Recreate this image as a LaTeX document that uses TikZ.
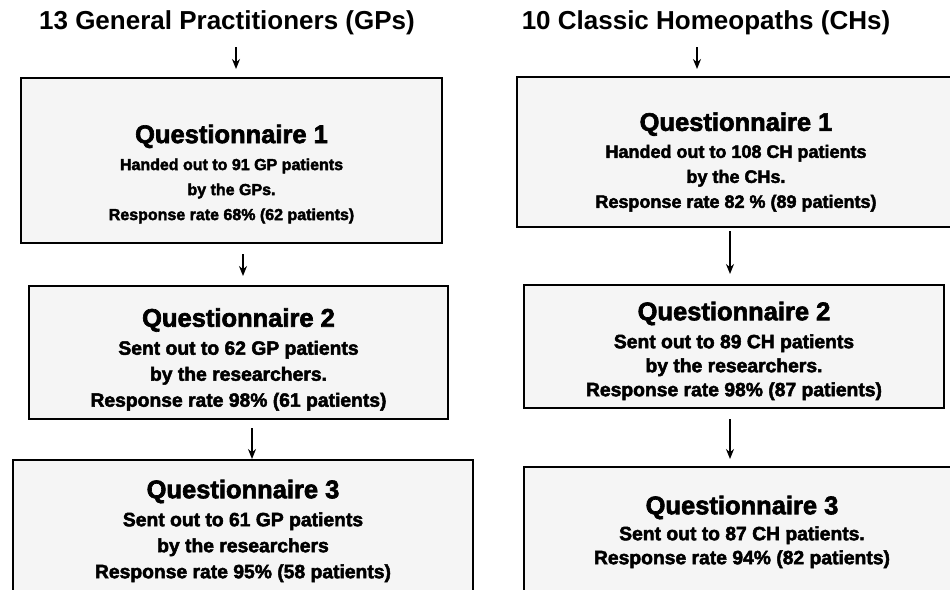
\documentclass[tikz,border=0pt]{standalone}
\usepackage{fontspec}
\setmainfont{Liberation Sans}
\newfontfamily\heavyfont{Liberation Sans}[BoldFeatures={FakeBold=2.5}]
\usetikzlibrary{arrows.meta}
\tikzset{
  qbox/.style={draw,line width=2pt,fill=black!4,inner sep=0pt},
  qtext/.style={align=center,inner sep=0pt,font=\heavyfont\bfseries\fontsize{19.3}{26}\selectfont},
  grp/.style={inner sep=0pt,font=\bfseries\fontsize{26}{30}\selectfont},
  flow/.style={line width=1.5pt,-{Stealth[length=10pt,width=8pt]}}
}
\newcommand{\qhead}[1]{{\fontsize{25.5}{30}\selectfont #1}}

\begin{document}
\begin{tikzpicture}[x=1pt,y=-1pt]
\useasboundingbox (0,0) rectangle (950,589);
% general practitioners
\node[grp] (gp) at (227,23) {13 General Practitioners (GPs)};
\node[qbox,minimum width=421pt,minimum height=165pt] (gp1) at (231.5,160.5) {};
\node[qtext,font=\heavyfont\bfseries\fontsize{16}{25}\selectfont] (gp1t) at (231.5,174) {\qhead{Questionnaire 1}\\[2pt]Handed out to 91 GP patients\\by the GPs.\\Response rate 68\% (62 patients)};
\node[qbox,minimum width=419pt,minimum height=133pt] (gp2) at (238.5,352.5) {};
\node[qtext] (gp2t) at (238.5,359.5) {\qhead{Questionnaire 2}\\[2pt]Sent out to 62 GP patients\\by the researchers.\\Response rate 98\% (61 patients)};
\node[qbox,minimum width=460pt,minimum height=140pt] (gp3) at (243,530) {};
\node[qtext] (gp3t) at (243,531) {\qhead{Questionnaire 3}\\[2pt]Sent out to 61 GP patients\\by the researchers\\Response rate 95\% (58 patients)};
% classic homeopaths
\node[grp] (ch) at (706,23) {10 Classic Homeopaths (CHs)};
\node[qbox,minimum width=443pt,minimum height=150pt] (ch1) at (738.5,152) {};
\node[qtext,font=\heavyfont\bfseries\fontsize{18}{25}\selectfont] (ch1t) at (736,162) {\qhead{Questionnaire 1}\\[2pt]Handed out to 108 CH patients\\by the CHs.\\Response rate 82 \% (89 patients)};
\node[qbox,minimum width=420pt,minimum height=123pt] (ch2) at (734,346.5) {};
\node[qtext,font=\heavyfont\bfseries\fontsize{19.3}{24}\selectfont] (ch2t) at (734,351) {\qhead{Questionnaire 2}\\[4pt]Sent out to 89 CH patients\\by the researchers.\\Response rate 98\% (87 patients)};
\node[qbox,minimum width=436pt,minimum height=133pt] (ch3) at (742,533.5) {};
\node[qtext,font=\heavyfont\bfseries\fontsize{19.3}{24}\selectfont] (ch3t) at (742,532) {\qhead{Questionnaire 3}\\[2pt]Sent out to 87 CH patients.\\Response rate 94\% (82 patients)};
% arrows
\draw[flow] ([xshift=9pt,yshift=-12pt]gp.south) -- ([xshift=4.5pt,yshift=8pt]gp1.north);
\draw[flow] ([xshift=11.5pt,yshift=-10pt]gp1.south) -- ([xshift=4.5pt,yshift=9pt]gp2.north);
\draw[flow] ([xshift=13.5pt,yshift=-8pt]gp2.south) -- ([xshift=9pt]gp3.north);
\draw[flow] ([xshift=-9pt,yshift=-12pt]ch.south) -- ([xshift=-41.5pt,yshift=7pt]ch1.north);
\draw[flow] ([xshift=-8.5pt,yshift=-3pt]ch1.south) -- ([xshift=-4pt,yshift=10pt]ch2.north);
\draw[flow] ([xshift=-4pt,yshift=-10pt]ch2.south) -- ([xshift=-12pt,yshift=7pt]ch3.north);
\end{tikzpicture}
\end{document}
